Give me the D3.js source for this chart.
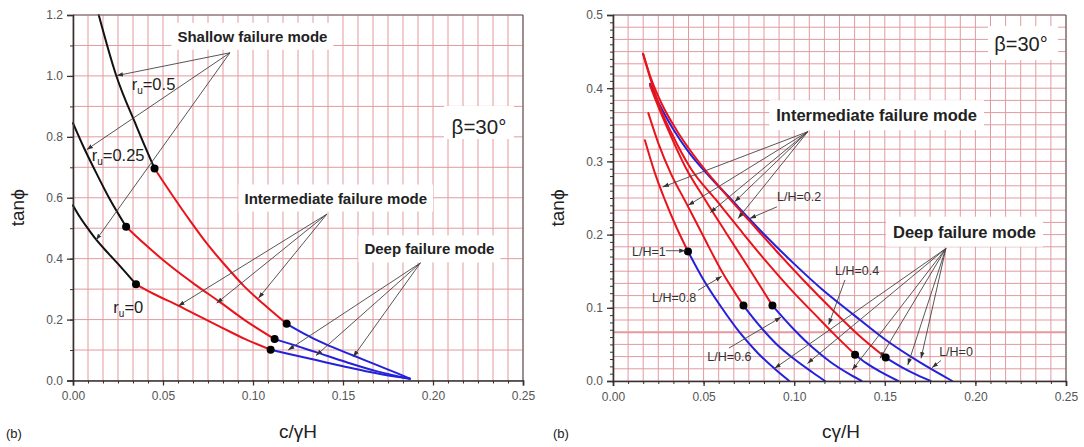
<!DOCTYPE html>
<html><head><meta charset="utf-8">
<script src="https://cdn.jsdelivr.net/npm/d3@7"></script>
<style>
body{margin:0;background:#fff;}
svg{display:block;}
text{font-family:"Liberation Sans",Arial,sans-serif;}
</style>
</head><body>
<svg id="c" width="1084" height="447"></svg>
<script>
// ---------- DATA ----------
const xTickVals = [0, 0.05, 0.10, 0.15, 0.20, 0.25];
const xTickLabels = ["0.00","0.05","0.10","0.15","0.20","0.25"];
const leftYTickVals = [0, 0.2, 0.4, 0.6, 0.8, 1.0, 1.2];
const leftYTickLabels = ["0.0","0.2","0.4","0.6","0.8","1.0","1.2"];
const rightYTickVals = [0, 0.1, 0.2, 0.3, 0.4, 0.5];
const rightYTickLabels = ["0.0","0.1","0.2","0.3","0.4","0.5"];

// Left panel: r_u curves (shallow = black, intermediate = red, deep = blue)
const ru0_shallow = [[0,0.575],[0.004,0.535],[0.009,0.493],[0.0128,0.463],[0.02,0.415],[0.027,0.37],[0.035,0.316]];
const ru0_inter   = [[0.035,0.316],[0.045,0.284],[0.0585,0.246],[0.07,0.211],[0.0832,0.172],[0.096,0.135],[0.1098,0.101]];
const ru0_deep    = [[0.1098,0.101],[0.12,0.087],[0.135,0.067],[0.15,0.047],[0.165,0.028],[0.178,0.014],[0.1872,0.006]];
const ru25_shallow = [[0,0.845],[0.006,0.765],[0.0122,0.69],[0.02,0.6],[0.0295,0.505]];
const ru25_inter   = [[0.0295,0.505],[0.04,0.447],[0.0545,0.374],[0.068,0.314],[0.0813,0.259],[0.096,0.196],[0.112,0.136]];
const ru25_deep    = [[0.112,0.136],[0.123,0.116],[0.135,0.093],[0.152,0.06],[0.169,0.03],[0.1872,0.006]];
const ru50_shallow = [[0.0143,1.2],[0.0239,1.003],[0.0354,0.833],[0.0453,0.696]];
const ru50_inter   = [[0.0453,0.696],[0.055,0.61],[0.065,0.525],[0.075,0.445],[0.085,0.375],[0.095,0.31],[0.106,0.25],[0.1187,0.186]];
const ru50_deep    = [[0.1187,0.186],[0.128,0.155],[0.14,0.12],[0.1557,0.082],[0.17,0.048],[0.18,0.024],[0.1872,0.006]];
const leftDots = [[0.035,0.316],[0.1098,0.101],[0.0295,0.505],[0.112,0.136],[0.0453,0.696],[0.1187,0.186]];

// Right panel: L/H curves
const LH1_inter  = [[0.0176,0.329],[0.023,0.285],[0.0287,0.247],[0.035,0.21],[0.0414,0.177]];
const LH1_deep   = [[0.0414,0.177],[0.05,0.138],[0.06,0.1],[0.07,0.066],[0.08,0.038],[0.09,0.015],[0.0973,0]];
const LH08_inter = [[0.0195,0.366],[0.025,0.325],[0.032,0.283],[0.040,0.245],[0.05,0.197],[0.06,0.15],[0.072,0.103]];
const LH08_deep  = [[0.072,0.103],[0.08,0.078],[0.09,0.051],[0.10,0.03],[0.11,0.012],[0.117,0]];
const LH06_inter = [[0.0204,0.404],[0.025,0.375],[0.031,0.34],[0.04,0.292],[0.051,0.247],[0.062,0.204],[0.075,0.154],[0.088,0.103]];
const LH06_deep  = [[0.088,0.103],[0.1,0.07],[0.11,0.046],[0.12,0.026],[0.13,0.01],[0.1372,0]];
const LH04_inter = [[0.0166,0.447],[0.021,0.41],[0.026,0.373],[0.033,0.335],[0.043,0.29],[0.057,0.247],[0.07,0.207],[0.085,0.162],[0.1,0.12],[0.111,0.092],[0.122,0.064],[0.1336,0.036]];
const LH04_deep  = [[0.1336,0.036],[0.14,0.024],[0.148,0.012],[0.1574,0]];
const LH02_inter = [[0.0166,0.447],[0.021,0.413],[0.027,0.378],[0.035,0.343],[0.045,0.307],[0.055,0.276],[0.065,0.247],[0.0755,0.218],[0.09,0.178],[0.105,0.138],[0.12,0.1],[0.135,0.064],[0.1505,0.032]];
const LH02_deep  = [[0.1505,0.032],[0.16,0.018],[0.168,0.008],[0.1753,0]];
const LH0_deep   = [[0.0204,0.406],[0.026,0.376],[0.033,0.345],[0.042,0.312],[0.053,0.28],[0.0645,0.25],[0.075,0.222],[0.0847,0.197],[0.10,0.16],[0.115,0.126],[0.133,0.09],[0.150,0.057],[0.169,0.026],[0.1872,0]];
const rightDots = [[0.0414,0.177],[0.072,0.103],[0.088,0.103],[0.1336,0.036],[0.1505,0.032]];

// Annotations (data coords)
const leftShallow = {text:"Shallow failure mode", pos:[0.0997,1.125], apex:[0.0872,1.076], targets:[[0.0243,1.001],[0.0076,0.758],[0.0128,0.461]]};
const leftInter = {text:"Intermediate failure mode", pos:[0.146,0.594], apex:[0.141,0.546], targets:[[0.0585,0.245],[0.0798,0.254],[0.103,0.27]]};
const leftDeep = {text:"Deep failure mode", pos:[0.198,0.427], apex:[0.193,0.386], targets:[[0.1195,0.1],[0.135,0.082],[0.1557,0.078]]};
const leftRuLabels = [{sub:"0.5", pos:[0.0326,0.971]},{sub:"0.25", pos:[0.0104,0.736]},{sub:"0", pos:[0.0224,0.237]}];

const rightInter = {text:"Intermediate failure mode", pos:[0.1455,0.361], apex:[0.1075,0.3406], targets:[[0.0274,0.265],[0.0415,0.240],[0.0536,0.230],[0.0672,0.245],[0.069,0.222]]};
const rightDeep = {text:"Deep failure mode", pos:[0.194,0.2017], apex:[0.1837,0.181], targets:[[0.0892,0.0173],[0.1073,0.024],[0.132,0.015],[0.1474,0.031],[0.1627,0.022],[0.170,0.031]]};
const rightLHLabels = [
  {text:"L/H=1",   pos:[0.0105,0.175], from:[0.0292,0.178], to:[0.040,0.178]},
  {text:"L/H=0.8", pos:[0.0215,0.113], from:[0.047,0.124], to:[0.060,0.143]},
  {text:"L/H=0.6", pos:[0.052,0.0315], from:[0.064,0.045], to:[0.0927,0.087]},
  {text:"L/H=0.4", pos:[0.1225,0.149], from:[0.128,0.138], to:[0.119,0.077]},
  {text:"L/H=0.2", pos:[0.0905,0.25],  from:[0.0905,0.238], to:[0.0755,0.222]},
  {text:"L/H=0",   pos:[0.180,0.038],  from:[0.181,0.028], to:[0.176,0.018]}
];

// ---------- DRAW ----------
const svg = d3.select("#c");
const defs = svg.append("defs");
defs.append("marker").attr("id","ah").attr("viewBox","0 0 10 10").attr("refX",10).attr("refY",5)
  .attr("markerWidth",7).attr("markerHeight",7).attr("orient","auto-start-reverse")
  .append("path").attr("d","M0,1.5 L10,5 L0,8.5 z").attr("fill","#333");

const RED = "#e8141c", BLUE = "#2222dd", BLACK = "#111";
const GRID = "#e29aa0";

function panel(opts){
  const g = svg.append("g");
  const x = d3.scaleLinear().domain([0,0.25]).range([opts.x0, opts.x1]);
  const y = d3.scaleLinear().domain([0,opts.ymax]).range([opts.y0, opts.y1]);
  const gv = d3.range(0,31).map(i=>i*0.25/30);
  g.selectAll(null).data(gv).enter().append("line")
    .attr("x1",d=>x(d)).attr("x2",d=>x(d)).attr("y1",y(0)).attr("y2",y(opts.ymax))
    .attr("stroke",GRID).attr("stroke-width",1);
  const gh = d3.range(0,opts.hGridN+1).map(i=>i*opts.ymax/opts.hGridN);
  g.selectAll(null).data(gh).enter().append("line")
    .attr("x1",x(0)).attr("x2",x(0.25)).attr("y1",d=>y(d)).attr("y2",d=>y(d))
    .attr("stroke",GRID).attr("stroke-width",d=> (opts.thick && Math.abs(d-opts.thick)<1e-6)?2:1);
  return {g,x,y};
}

function frame(P, opts){
  const {g,x,y} = P;
  g.append("line").attr("x1",x(0)).attr("x2",x(0.25)).attr("y1",y(opts.ymax)).attr("y2",y(opts.ymax)).attr("stroke","#666").attr("stroke-width",1.2);
  g.append("line").attr("x1",x(0.25)).attr("x2",x(0.25)).attr("y1",y(0)).attr("y2",y(opts.ymax)).attr("stroke","#666").attr("stroke-width",1.2);
  const xa = d3.axisBottom(x).tickValues(xTickVals).tickFormat((d,i)=>xTickLabels[i]).tickSize(5).tickPadding(6);
  const ax = g.append("g").attr("transform",`translate(0,${y(0)})`).call(xa);
  ax.select(".domain").attr("stroke","#333").attr("stroke-width",1.6);
  ax.selectAll(".tick line").attr("stroke","#333").attr("stroke-width",1.3);
  ax.selectAll("text").attr("fill","#555").style("font-size","12px");
  const xm = d3.axisBottom(x).tickValues(d3.range(0,31).map(i=>i*0.25/30)).tickFormat("").tickSize(3);
  const axm = g.append("g").attr("transform",`translate(0,${y(0)})`).call(xm);
  axm.select(".domain").remove(); axm.selectAll(".tick line").attr("stroke","#333");
  const ya = d3.axisLeft(y).tickValues(opts.yTicks).tickFormat((d,i)=>opts.yLabels[i]).tickSize(6).tickPadding(4);
  const ay = g.append("g").attr("transform",`translate(${x(0)},0)`).call(ya);
  ay.select(".domain").attr("stroke","#333").attr("stroke-width",1.6);
  ay.selectAll(".tick line").attr("stroke","#333").attr("stroke-width",1.3);
  ay.selectAll("text").attr("fill","#555").style("font-size","12px");
  const ym = d3.axisLeft(y).tickValues(opts.yMinor).tickFormat("").tickSize(3);
  const aym = g.append("g").attr("transform",`translate(${x(0)},0)`).call(ym);
  aym.select(".domain").remove(); aym.selectAll(".tick line").attr("stroke","#333");
  g.append("text").attr("transform",`translate(${opts.yTitleX},${(y(0)+y(opts.ymax))/2+10}) rotate(-90)`)
    .attr("text-anchor","middle").style("font-size","19px").attr("fill","#222").text("tanϕ");
  g.append("text").attr("x",opts.xTitleX).attr("y",438).attr("text-anchor","middle")
    .style("font-size","19px").attr("fill","#222").text(opts.xTitle);
  g.append("text").attr("x",opts.bX).attr("y",438).attr("text-anchor","start")
    .style("font-size","13px").attr("fill","#222").text("(b)");
}

function curve(P, pts, color){
  const line = d3.line().x(d=>P.x(d[0])).y(d=>P.y(d[1])).curve(d3.curveMonotoneX);
  P.layer.append("path").attr("d",line(pts)).attr("fill","none").attr("stroke",color).attr("stroke-width",2).attr("stroke-linecap","round");
}
function dots(P, pts){
  P.layer.selectAll(null).data(pts).enter().append("circle").attr("cx",d=>P.x(d[0])).attr("cy",d=>P.y(d[1])).attr("r",4).attr("fill","#000");
}
function arrows(P, apex, targets){
  P.layer.selectAll(null).data(targets).enter().append("line")
    .attr("x1",P.x(apex[0])).attr("y1",P.y(apex[1])).attr("x2",d=>P.x(d[0])).attr("y2",d=>P.y(d[1]))
    .attr("stroke","#444").attr("stroke-width",0.9).attr("marker-end","url(#ah)");
}
function label(P, ann, size){
  return P.textLayer.append("text").attr("x",P.x(ann.pos[0])).attr("y",P.y(ann.pos[1])).attr("text-anchor","middle")
    .attr("dominant-baseline","middle").style("font-size",size+"px").style("font-weight","bold").attr("fill","#222").text(ann.text);
}

// ---- LEFT PANEL ----
const Lopts = {x0:73,x1:523,y0:380.5,y1:15,ymax:1.2,hGridN:12,yTicks:leftYTickVals,yLabels:leftYTickLabels,
  yMinor:d3.range(0,13).map(i=>i*0.1), yTitleX:24, xTitleX:298, xTitle:"c/γH", bX:6};
const L = panel(Lopts);
L.boxLayer = L.g.append("g");
L.layer = L.g.append("g");
L.textLayer = L.g.append("g");
frame(L, Lopts);

[[leftShallow,15],[leftInter,15],[leftDeep,15]].forEach(([a,s])=>{
  const t = label(L,a,s);
  const b = t.node().getBBox();
  L.boxLayer.append("rect").attr("x",b.x-6).attr("y",b.y-5).attr("width",b.width+12).attr("height",b.height+10).attr("fill","#fff");
});
L.textLayer.append("text").attr("x",479).attr("y",134).attr("text-anchor","middle").style("font-size","20.5px").attr("fill","#222").text("β=30°");
L.boxLayer.append("rect").attr("x",444).attr("y",106).attr("width",70).attr("height",33).attr("fill","#fff");

curve(L, ru0_shallow, BLACK); curve(L, ru0_inter, RED); curve(L, ru0_deep, BLUE);
curve(L, ru25_shallow, BLACK); curve(L, ru25_inter, RED); curve(L, ru25_deep, BLUE);
curve(L, ru50_shallow, BLACK); curve(L, ru50_inter, RED); curve(L, ru50_deep, BLUE);
arrows(L, leftShallow.apex, leftShallow.targets);
arrows(L, leftInter.apex, leftInter.targets);
arrows(L, leftDeep.apex, leftDeep.targets);
dots(L, leftDots);
leftRuLabels.forEach(r=>{
  const t = L.textLayer.append("text").attr("x",L.x(r.pos[0])).attr("y",L.y(r.pos[1])+5).style("font-size","16.5px").attr("fill","#222");
  t.append("tspan").text("r");
  t.append("tspan").attr("dy",4).style("font-size","10px").text("u");
  t.append("tspan").attr("dy",-4).text("="+r.sub);
});

// ---- RIGHT PANEL ----
const Ropts = {x0:613,x1:1066,y0:381,y1:15,ymax:0.5,hGridN:30,thick:4*0.5/30,yTicks:rightYTickVals,yLabels:rightYTickLabels,
  yMinor:d3.range(0,51).map(i=>i*0.01), yTitleX:564, xTitleX:841, xTitle:"cγ/H", bX:553};
const R = panel(Ropts);
R.boxLayer = R.g.append("g");
R.layer = R.g.append("g");
R.textLayer = R.g.append("g");
frame(R, Ropts);
[[rightInter,16.5],[rightDeep,16.5]].forEach(([a,s])=>{
  const t = label(R,a,s);
  const b = t.node().getBBox();
  R.boxLayer.append("rect").attr("x",b.x-7).attr("y",b.y-6).attr("width",b.width+14).attr("height",b.height+12).attr("fill","#fff");
});
R.textLayer.append("text").attr("x",1021).attr("y",51).attr("text-anchor","middle").style("font-size","20px").attr("fill","#222").text("β=30°");
R.boxLayer.append("rect").attr("x",988).attr("y",26).attr("width",70).attr("height",34).attr("fill","#fff");

curve(R, LH0_deep, BLUE);
curve(R, LH1_inter, RED); curve(R, LH1_deep, BLUE);
curve(R, LH08_inter, RED); curve(R, LH08_deep, BLUE);
curve(R, LH06_inter, RED); curve(R, LH06_deep, BLUE);
curve(R, LH04_inter, RED); curve(R, LH04_deep, BLUE);
curve(R, LH02_inter, RED); curve(R, LH02_deep, BLUE);
arrows(R, rightInter.apex, rightInter.targets);
arrows(R, rightDeep.apex, rightDeep.targets);
dots(R, rightDots);
rightLHLabels.forEach(l=>{
  R.textLayer.append("text").attr("x",R.x(l.pos[0])).attr("y",R.y(l.pos[1])).attr("dominant-baseline","middle")
    .style("font-size","12.5px").attr("fill","#333").text(l.text);
  R.layer.append("line").attr("x1",R.x(l.from[0])).attr("y1",R.y(l.from[1])).attr("x2",R.x(l.to[0])).attr("y2",R.y(l.to[1]))
    .attr("stroke","#444").attr("stroke-width",0.9).attr("marker-end","url(#ah)");
});
</script>
</body></html>
